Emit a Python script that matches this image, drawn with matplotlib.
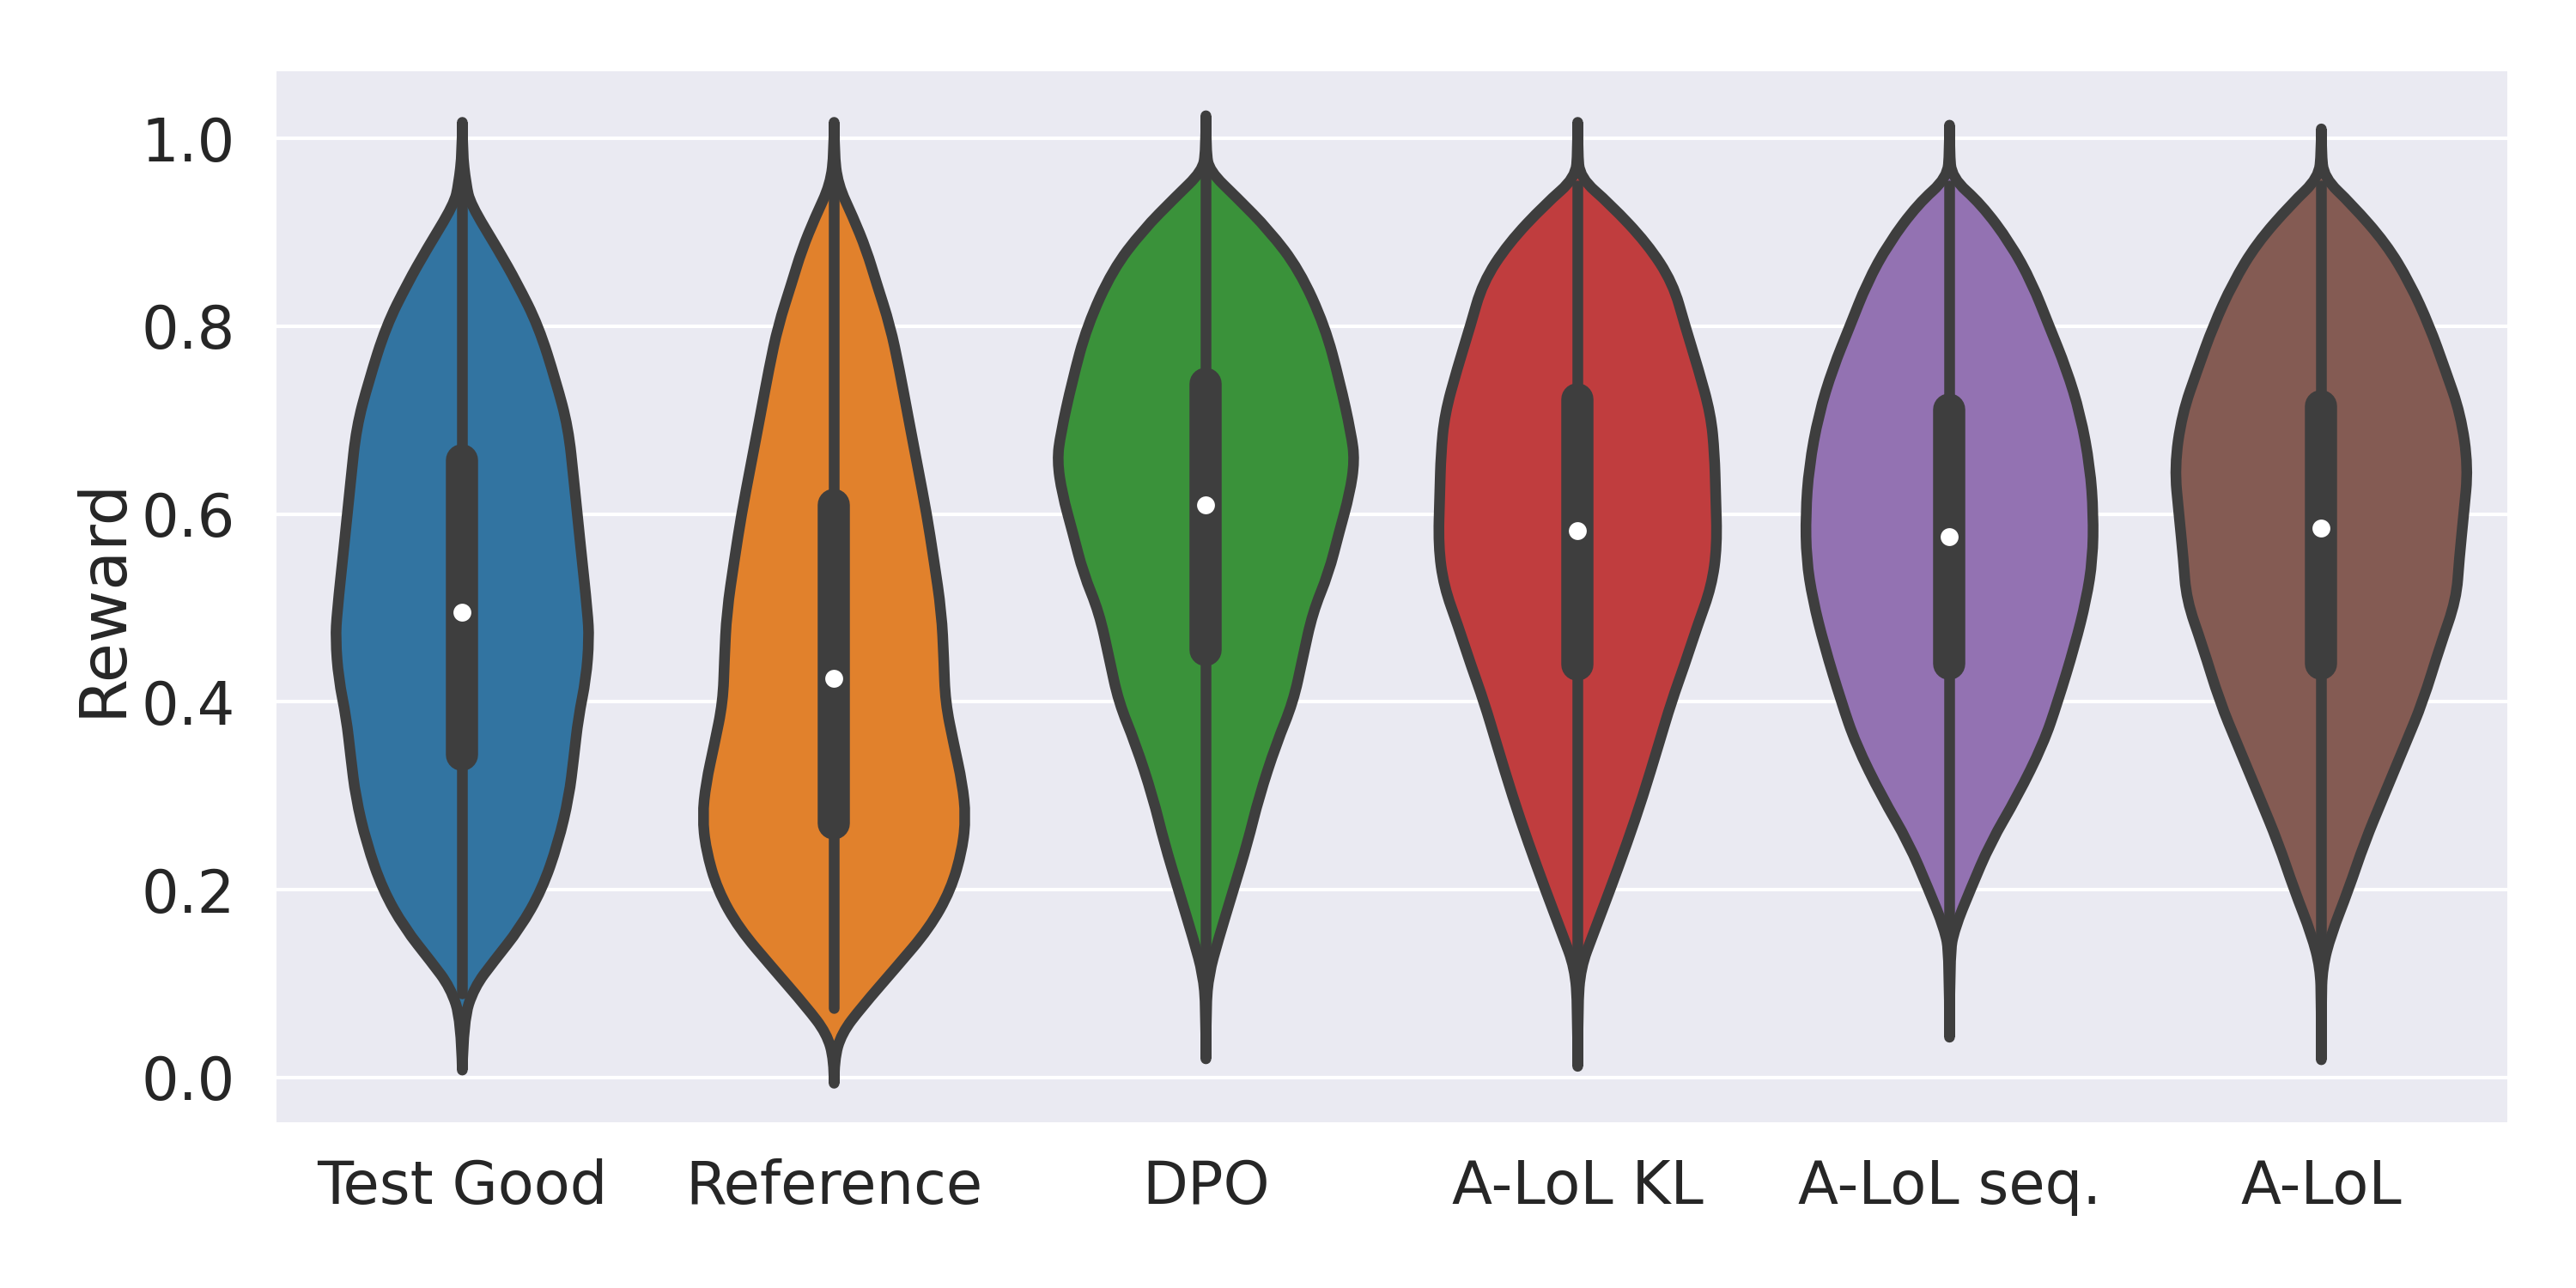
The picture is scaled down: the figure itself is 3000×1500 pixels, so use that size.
import numpy as np
import matplotlib
matplotlib.use("Agg")
from matplotlib import pyplot as plt
from matplotlib.path import Path
from matplotlib.patches import PathPatch
import seaborn as sns

methods = ["Test Good", "Reference", "DPO", "A-LoL KL", "A-LoL seq.", "A-LoL"]
colors = ["#3274a1", "#e1812c", "#3a923a", "#c03d3e", "#9372b2", "#845b53"]

# violin outlines: reward level and density (relative width)
good_y = [1.017, 0.986, 0.951, 0.930, 0.881, 0.846, 0.800, 0.741, 0.692, 0.636, 0.566, 0.495,
          0.467, 0.425, 0.383, 0.341, 0.299, 0.250, 0.200, 0.159, 0.124, 0.096, 0.061, 0.008]
good_d = [0, 0, 0.010, 0.022, 0.097, 0.147, 0.205, 0.252, 0.285, 0.300, 0.318, 0.337,
          0.341, 0.333, 0.312, 0.300, 0.287, 0.258, 0.214, 0.155, 0.085, 0.032, 0.003, 0]

ref_y = [1.017, 0.986, 0.951, 0.916, 0.881, 0.846, 0.800, 0.755, 0.706, 0.650, 0.600, 0.552,
         0.495, 0.446, 0.400, 0.355, 0.313, 0.278, 0.243, 0.200, 0.159, 0.117, 0.075, 0.047,
         0.019, -0.006]
ref_d = [0, 0, 0.010, 0.051, 0.087, 0.114, 0.151, 0.175, 0.198, 0.225, 0.249, 0.268,
         0.289, 0.295, 0.299, 0.322, 0.345, 0.354, 0.345, 0.314, 0.256, 0.166, 0.074, 0.020,
         0, 0]

dpo_y = [1.024, 0.986, 0.965, 0.937, 0.902, 0.860, 0.800, 0.741, 0.685, 0.657, 0.622, 0.580,
         0.537, 0.495, 0.446, 0.400, 0.355, 0.299, 0.250, 0.200, 0.145, 0.110, 0.075, 0.020]
dpo_d = [0, 0, 0.010, 0.083, 0.170, 0.251, 0.320, 0.360, 0.391, 0.400, 0.387, 0.358,
         0.330, 0.287, 0.260, 0.235, 0.189, 0.143, 0.112, 0.074, 0.032, 0.008, 0, 0]

kl_y = [1.017, 0.986, 0.958, 0.930, 0.888, 0.846, 0.800, 0.755, 0.706, 0.664, 0.622, 0.566,
        0.523, 0.481, 0.439, 0.400, 0.355, 0.299, 0.250, 0.200, 0.152, 0.117, 0.075, 0.012]
kl_d = [0, 0, 0.006, 0.087, 0.187, 0.256, 0.289, 0.324, 0.358, 0.368, 0.371, 0.375,
        0.360, 0.322, 0.287, 0.252, 0.218, 0.175, 0.133, 0.087, 0.041, 0.008, 0, 0]

seq_y = [1.014, 0.986, 0.958, 0.930, 0.888, 0.846, 0.800, 0.755, 0.706, 0.650, 0.600, 0.552,
         0.509, 0.460, 0.400, 0.355, 0.299, 0.250, 0.200, 0.159, 0.131, 0.043]
seq_d = [0, 0, 0.006, 0.085, 0.164, 0.222, 0.268, 0.314, 0.352, 0.378, 0.387, 0.385,
         0.368, 0.337, 0.291, 0.252, 0.182, 0.110, 0.056, 0.014, 0, 0]

alol_y = [1.010, 0.986, 0.958, 0.930, 0.888, 0.846, 0.800, 0.755, 0.706, 0.650, 0.600, 0.552,
          0.509, 0.460, 0.400, 0.355, 0.299, 0.250, 0.200, 0.152, 0.117, 0.080, 0.019]
alol_d = [0, 0, 0.007, 0.081, 0.174, 0.238, 0.291, 0.332, 0.375, 0.395, 0.383, 0.371,
          0.363, 0.320, 0.273, 0.226, 0.167, 0.116, 0.073, 0.026, 0.003, 0, 0]

outline_y = [good_y, ref_y, dpo_y, kl_y, seq_y, alol_y]
outline_d = [good_d, ref_d, dpo_d, kl_d, seq_d, alol_d]

# box stats
q1 = [0.344, 0.271, 0.455, 0.440, 0.441, 0.441]
median = [0.495, 0.425, 0.610, 0.582, 0.576, 0.585]
q3 = [0.657, 0.610, 0.739, 0.722, 0.711, 0.715]
whis_lo = [0.090, 0.074, 0.100, 0.100, 0.140, 0.120]
whis_hi = [0.950, 0.945, 0.960, 0.950, 0.950, 0.950]


def smooth_side(pts):
    # quadratic b-spline through the read points, ends kept fixed
    verts = []
    codes = []
    n = len(pts)
    for k in range(1, n - 1):
        verts.append(pts[k])
        codes.append(Path.CURVE3)
        if k < n - 2:
            verts.append(((pts[k][0] + pts[k + 1][0]) / 2, (pts[k][1] + pts[k + 1][1]) / 2))
        else:
            verts.append(pts[n - 1])
        codes.append(Path.CURVE3)
    return verts, codes


sns.set_theme(style="darkgrid")
plt.rcParams["font.family"] = ["DejaVu Sans"]

fig = plt.figure(figsize=(10, 5), dpi=300)
ax = fig.add_axes([0.1073, 0.1287, 0.8660, 0.8157])

gray = "#3e3e3e"
lw = 3.0
dmax = max(max(d) for d in outline_d)
for i in range(len(methods)):
    y = np.array(outline_y[i])
    hw = np.array(outline_d[i]) / dmax * 0.4
    right = list(zip(i + hw, y))
    left = list(zip(i - hw[::-1], y[::-1]))
    rv, rc = smooth_side(right)
    lv, lc = smooth_side(left)
    verts = [right[0]] + rv + lv + [right[0]]
    codes = [Path.MOVETO] + rc + lc + [Path.CLOSEPOLY]
    patch = PathPatch(Path(verts, codes), facecolor=colors[i], edgecolor=gray,
                      linewidth=lw, joinstyle="round", capstyle="round", zorder=1)
    ax.add_patch(patch)
    ax.plot([i, i], [whis_lo[i], whis_hi[i]], color=gray, linewidth=lw,
            solid_capstyle="round", zorder=2)
    ax.plot([i, i], [q1[i], q3[i]], color=gray, linewidth=lw * 3,
            solid_capstyle="round", zorder=2)
    ax.scatter([i], [median[i]], s=(lw * 2) ** 2, color="white", edgecolor=gray,
               linewidth=1.0, zorder=3)

ax.set_xlim(-0.5, len(methods) - 0.5)
ax.set_ylim(-0.0475, 1.071)
ax.set_xticks(range(len(methods)))
ax.set_xticklabels(methods)
ax.set_yticks([0.0, 0.2, 0.4, 0.6, 0.8, 1.0])
ax.set_yticklabels(["0.0", "0.2", "0.4", "0.6", "0.8", "1.0"])
ax.grid(False, axis="x")
ax.grid(True, axis="y", color="white", linewidth=1.0)
ax.tick_params(axis="x", length=0, pad=10, labelsize=16.5, labelcolor="#262626")
ax.tick_params(axis="y", length=0, pad=11.5, labelsize=16.5, labelcolor="#262626")
ax.set_ylabel("Reward", fontsize=18, color="#262626", labelpad=2)
for s in ax.spines.values():
    s.set_visible(False)

fig.savefig("out.png", dpi=300)
